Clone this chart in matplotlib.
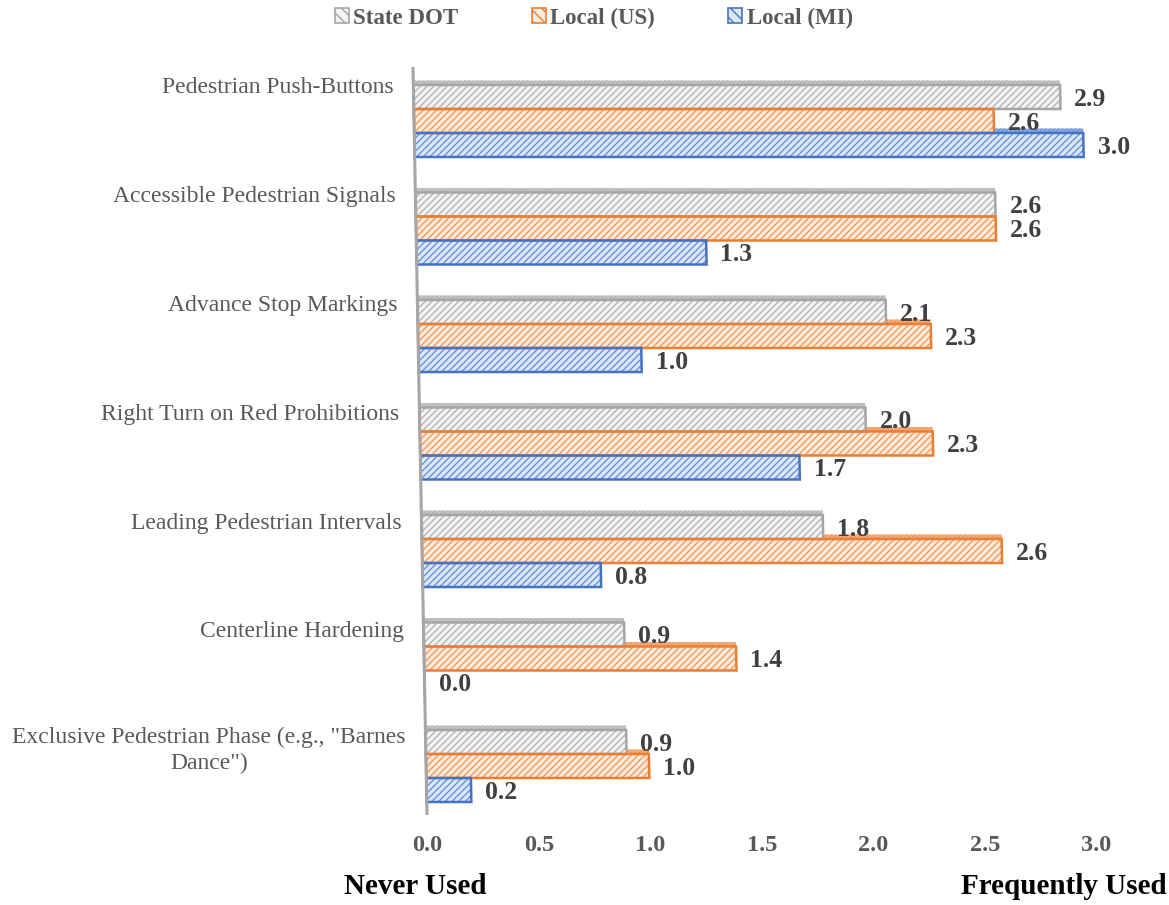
import matplotlib
matplotlib.use("Agg")
import matplotlib.pyplot as plt
from matplotlib.patches import Patch
from matplotlib.transforms import Affine2D
import numpy as np

plt.rcParams['font.family'] = ['Liberation Serif', 'DejaVu Serif']
plt.rcParams['hatch.linewidth'] = 1.0

# ---- data (rows listed top to bottom) ----
categories = [
    "Pedestrian Push-Buttons",
    "Accessible Pedestrian Signals",
    "Advance Stop Markings",
    "Right Turn on Red Prohibitions",
    "Leading Pedestrian Intervals",
    "Centerline Hardening",
    'Exclusive Pedestrian Phase (e.g., "Barnes\nDance")',
]
state_dot = [2.9, 2.6, 2.1, 2.0, 1.8, 0.9, 0.9]
local_us = [2.6, 2.6, 2.3, 2.3, 2.6, 1.4, 1.0]
local_mi = [3.0, 1.3, 1.0, 1.7, 0.8, 0.0, 0.2]
series_names = ["State DOT", "Local (US)", "Local (MI)"]
tick_values = [0.0, 0.5, 1.0, 1.5, 2.0, 2.5, 3.0]

# ---- styling ----
face_colors = ['#F4F4F4', '#FDEBDD', '#DCE8F8']
hatch_colors = ['#B4B4B4', '#F19A5E', '#6A92DA']
edge_colors = ['#A5A5A5', '#ED7D31', '#4472C4']
roof_colors = ['#C8C8C8', '#F4B083', '#95B2E6']
label_color = '#404040'
axis_text_color = '#595959'

W, H = 1169, 905
fig = plt.figure(figsize=(W / 100, H / 100), dpi=100)

px_per_unit = 223.0
row_px = 107.5
row0_px = 121.0
top_px, bot_px = 67.0, 815.0
y_top = (top_px - row0_px) / row_px
y_bot = (bot_px - row0_px) / row_px
x_max = 3.4

ax = fig.add_axes([413 / W, (H - bot_px) / H, x_max * px_per_unit / W, (bot_px - top_px) / H])
ax.set_xlim(0, x_max)
ax.set_ylim(y_bot, y_top)
ax.axis('off')

# perspective-like lean of the value axis (14 px over the plot height)
k = (14.0 / (bot_px - top_px)) * row_px / px_per_unit
shear = Affine2D(np.array([[1.0, k, -k * y_top], [0.0, 1.0, 0.0], [0.0, 0.0, 1.0]]))
tr = shear + ax.transData

bar_h = 24.0 / row_px
roof_h = 4.5 / row_px
y_idx = np.arange(len(categories))
offsets = [-bar_h, 0.0, bar_h]
all_series = [state_dot, local_us, local_mi]

# roofs (3-D top faces) sit behind the bars
for s, vals in enumerate(all_series):
    ys = y_idx + offsets[s] - bar_h / 2 - roof_h / 2
    roofs = ax.barh(ys, vals, height=roof_h, left=0, color=roof_colors[s],
                    edgecolor=hatch_colors[s], linewidth=0, hatch='////////', zorder=1)
    for p in roofs.patches:
        p.set_transform(tr)
        p.set_clip_on(False)

for s, vals in enumerate(all_series):
    ys = y_idx + offsets[s]
    fills = ax.barh(ys, vals, height=bar_h, left=0, color=face_colors[s],
                    edgecolor=hatch_colors[s], linewidth=0, hatch='/////', zorder=2)
    outlines = ax.barh(ys, vals, height=bar_h, left=0, color='none',
                       edgecolor=edge_colors[s], linewidth=1.8, zorder=3)
    for p in list(fills.patches) + list(outlines.patches):
        p.set_transform(tr)
        p.set_clip_on(False)
    for y, v in zip(ys, vals):
        ax.text(v + 14.0 / px_per_unit, y + 0.02, f"{v:.1f}", transform=tr,
                ha='left', va='center', fontsize=18.5, fontweight='bold',
                color=label_color, zorder=5, clip_on=False)

# leaning value axis line
ax.plot([0, 0], [y_top, y_bot], transform=tr, color='#A6A6A6', lw=2.2,
        zorder=4, clip_on=False, solid_capstyle='butt')

# category labels (spaced slightly wider than the bar groups, as on the back wall)
for i, name in enumerate(categories):
    n_lines = name.count('\n') + 1
    y = -0.307 + 1.012 * i + (0.09 if n_lines > 1 else 0.0)
    ax.text(-20.0 / px_per_unit, y, name, transform=tr, ha='right', va='center',
            multialignment='center', fontsize=17, color=axis_text_color,
            clip_on=False, linespacing=1.3)

# value tick labels along the front edge
y_ticks = (845.0 - row0_px) / row_px
for v in tick_values:
    ax.text(v, y_ticks, f"{v:.1f}", transform=tr, ha='center', va='center',
            fontsize=17.5, fontweight='bold', color=axis_text_color, clip_on=False)

# scale end annotations
fig.text(415 / W, 1 - 886 / H, "Never Used", ha='center', va='center',
         fontsize=21, fontweight='bold', color='black')
fig.text(1064 / W, 1 - 886 / H, "Frequently Used", ha='center', va='center',
         fontsize=21, fontweight='bold', color='black')

# legend
handles = [Patch(facecolor=face_colors[s], edgecolor=edge_colors[s], hatch='\\\\\\',
                 linewidth=1.2) for s in range(3)]
leg = fig.legend(handles, series_names, loc='center', bbox_to_anchor=(0.508, 1 - 18 / H),
                 ncol=3, frameon=False, handlelength=0.6, handleheight=0.6,
                 handletextpad=0.2, columnspacing=3.2,
                 prop={'size': 16.5, 'weight': 'bold'})
for t in leg.get_texts():
    t.set_color(axis_text_color)

fig.savefig("out.png", dpi=100, facecolor='white')
